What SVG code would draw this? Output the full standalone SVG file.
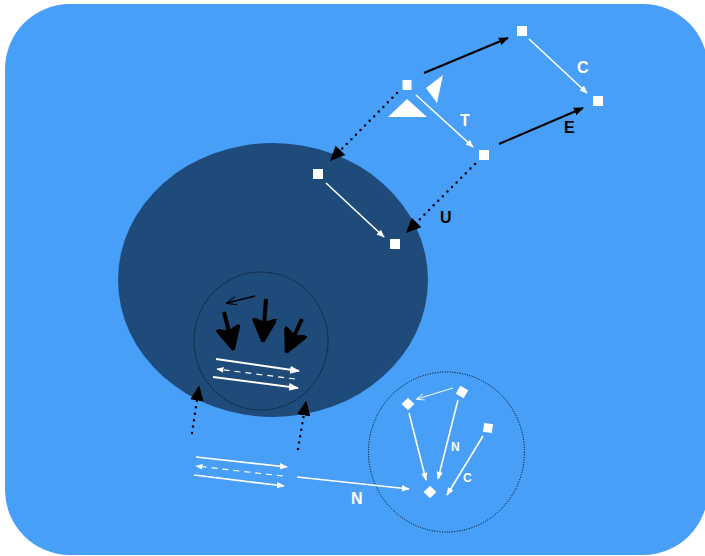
<svg xmlns="http://www.w3.org/2000/svg" width="705" height="556" viewBox="0 0 705 556">
<defs>
<marker id="wh" viewBox="0 0 10 10" refX="9" refY="5" markerWidth="5" markerHeight="5" markerUnits="strokeWidth" orient="auto"><path d="M0,1 L10,5 L0,9 Z" fill="#fff"/></marker>
<marker id="whs" viewBox="0 0 10 10" refX="9" refY="5" markerWidth="6" markerHeight="6" markerUnits="strokeWidth" orient="auto"><path d="M0,1 L10,5 L0,9 Z" fill="#fff"/></marker>
<marker id="bk" viewBox="0 0 10 10" refX="9" refY="5" markerWidth="5" markerHeight="5" markerUnits="strokeWidth" orient="auto"><path d="M0,1 L10,5 L0,9 Z" fill="#000"/></marker>
<marker id="bkd" viewBox="0 0 10 10" refX="9" refY="5" markerWidth="6" markerHeight="6" markerUnits="strokeWidth" orient="auto"><path d="M0,0.5 L10,5 L0,9.5 Z" fill="#000"/></marker>
<marker id="bigbk" viewBox="0 0 10 10" refX="9" refY="5" markerWidth="6" markerHeight="6" markerUnits="strokeWidth" orient="auto"><path d="M0,0 L10,5 L0,10 L2,5 Z" fill="#000" stroke="#000" stroke-width="1"/></marker>
<marker id="openbk" viewBox="0 0 10 10" refX="9" refY="5" markerWidth="8" markerHeight="8" markerUnits="strokeWidth" orient="auto"><path d="M0,1 L10,5 L0,9" fill="none" stroke="#000" stroke-width="1"/></marker>
<marker id="openwh" viewBox="0 0 10 10" refX="9" refY="5" markerWidth="8" markerHeight="8" markerUnits="strokeWidth" orient="auto"><path d="M0,1 L10,5 L0,9" fill="none" stroke="#fff" stroke-width="1"/></marker>
</defs>
<style>
.node{fill:#fff}
.w{stroke:#fff;stroke-width:1.6;fill:none;marker-end:url(#wh)}
.w2{stroke:#fff;stroke-width:2;fill:none;marker-end:url(#wh)}
.wd{stroke:#fff;stroke-width:1.2;fill:none;stroke-dasharray:6 5;marker-end:url(#whs)}
.b{stroke:#000;stroke-width:2;fill:none;marker-end:url(#bk)}
.dot{stroke:#000;stroke-width:2.5;fill:none;stroke-dasharray:0 6.5;stroke-linecap:round;marker-end:url(#bkd)}
.thick{stroke:#000;stroke-width:4;fill:none;marker-end:url(#bigbk)}
.ring{fill:none;stroke:#000;stroke-width:1;stroke-dasharray:1 1.5}
.lb{font-family:"Liberation Sans",Arial,sans-serif;font-weight:bold;font-size:16px}
.ls{font-family:"Liberation Sans",Arial,sans-serif;font-weight:bold;font-size:12px}
</style>
<rect x="5" y="4" width="703" height="551" rx="65" ry="65" fill="#479ff8"/>
<ellipse cx="273" cy="280" rx="155" ry="137" fill="#1f4b7a"/>
<ellipse class="ring" cx="261" cy="341" rx="67" ry="69"/>
<ellipse class="ring" cx="446.5" cy="452" rx="78" ry="80"/>

<g id="connectors">
<line class="b" x1="424" y1="73" x2="508" y2="38"/>
<line class="w" x1="529" y1="39" x2="587" y2="93"/>
<line class="w" x1="416" y1="95" x2="473" y2="147"/>
<line class="b" x1="499" y1="144" x2="583" y2="108"/>
<line class="dot" x1="397" y1="93" x2="331" y2="160"/>
<line class="w" x1="326" y1="183" x2="384" y2="237"/>
<line class="dot" x1="475" y1="164" x2="407" y2="232"/>
<line stroke="#000" stroke-width="1.3" fill="none" marker-end="url(#openbk)" x1="255" y1="296" x2="227" y2="303"/>
<line class="thick" x1="224" y1="312" x2="233" y2="348"/>
<line class="thick" x1="266" y1="299" x2="263" y2="340"/>
<line class="thick" x1="302" y1="319" x2="287" y2="351"/>
<line class="w2" x1="216" y1="359" x2="299" y2="371"/>
<line class="wd" x1="295" y1="379" x2="217" y2="369"/>
<line class="w2" x1="213" y1="377" x2="298" y2="388"/>
<line class="dot" x1="192" y1="433" x2="199" y2="387"/>
<line class="dot" x1="298" y1="449" x2="306" y2="402"/>
<line class="w" x1="196" y1="457" x2="287" y2="467"/>
<line class="wd" x1="283" y1="476" x2="196" y2="466"/>
<line class="w" x1="194" y1="475" x2="284" y2="486"/>
<line class="w" x1="297" y1="477" x2="409" y2="489"/>
<line stroke="#fff" stroke-width="1" fill="none" marker-end="url(#openwh)" x1="453" y1="388" x2="417" y2="399"/>
<line class="w" x1="409" y1="413" x2="426" y2="480"/>
<line class="w" x1="458" y1="400" x2="438" y2="479"/>
<line class="w" x1="483" y1="436" x2="447" y2="495"/>
</g>

<g id="nodeA"><rect class="node" x="402.5" y="80" width="9" height="10"/></g>
<g id="nodeB"><rect class="node" x="517" y="26" width="10" height="10"/></g>
<g id="nodeC"><rect class="node" x="593" y="96" width="10" height="10"/></g>
<g id="nodeD"><rect class="node" x="479" y="150" width="10" height="10"/></g>
<g id="nodeE"><rect class="node" x="313" y="169" width="10" height="10"/></g>
<g id="nodeF"><rect class="node" x="390" y="239" width="10" height="10"/></g>
<g id="tri1"><polygon fill="#fff" points="388,117 427,117 407,99"/></g>
<g id="tri2"><polygon fill="#fff" points="426,88 443,75 437,103"/></g>
<g id="nodeG"><rect class="node" x="-4.5" y="-4.5" width="9" height="9" transform="translate(408,404) rotate(45)"/></g>
<g id="nodeH"><rect class="node" x="-4.5" y="-4.5" width="9" height="9" transform="translate(462,392) rotate(30)"/></g>
<g id="nodeI"><rect class="node" x="-4.5" y="-4.5" width="9" height="9" transform="translate(488,428) rotate(8)"/></g>
<g id="nodeJ"><rect class="node" x="-4.5" y="-4.5" width="9" height="9" transform="translate(430,492) rotate(45)"/></g>

<g id="labels">
<text class="lb" fill="#fff" x="577" y="73">C</text>
<text class="lb" fill="#fff" x="460" y="126">T</text>
<text class="lb" fill="#000" x="564" y="133">E</text>
<text class="lb" fill="#000" x="440" y="223">U</text>
<text class="lb" fill="#fff" x="351" y="504">N</text>
<text class="ls" fill="#fff" x="451" y="451">N</text>
<text class="ls" fill="#fff" x="463" y="482">C</text>
</g>
</svg>
